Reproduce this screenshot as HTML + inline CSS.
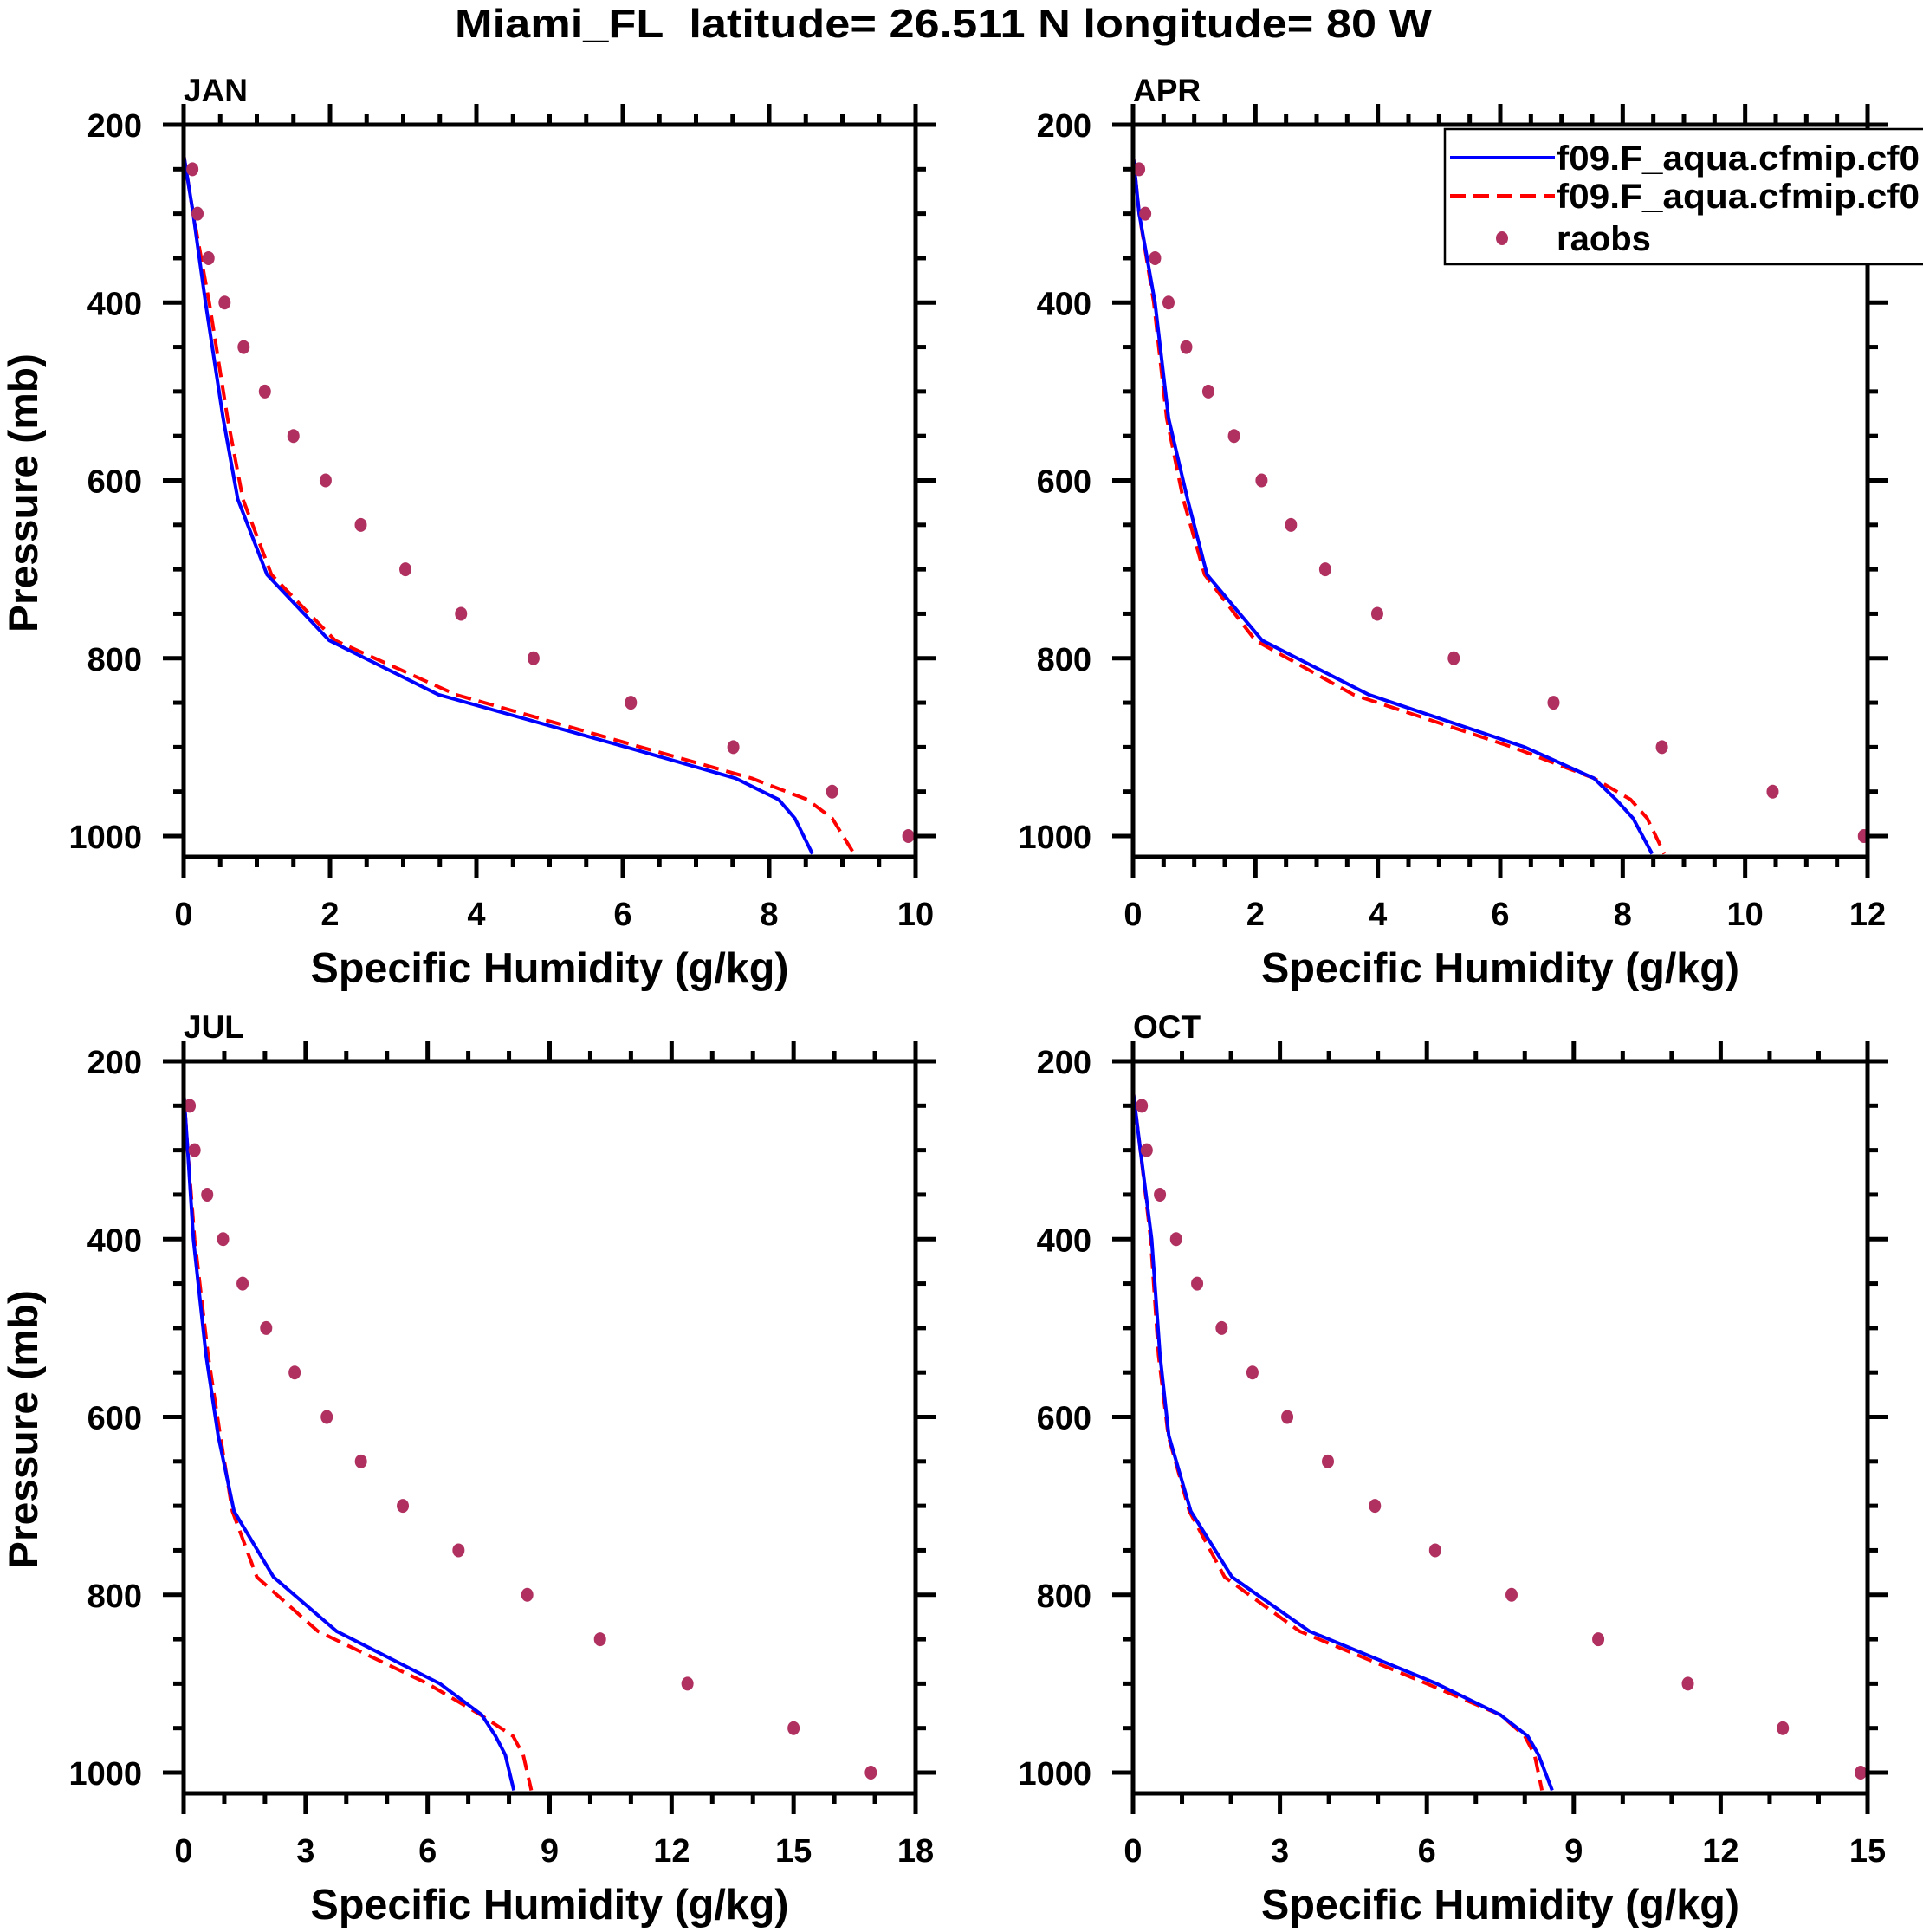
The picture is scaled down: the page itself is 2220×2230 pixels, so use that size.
<!DOCTYPE html>
<html><head><meta charset="utf-8"><style>
html,body{margin:0;padding:0;background:#fff}
svg{display:block}
text{font-family:"Liberation Sans",sans-serif;font-weight:bold;fill:#000}
</style></head><body>
<svg id="fig" xmlns="http://www.w3.org/2000/svg" width="2220" height="2230" viewBox="0 0 2220 2230">
<rect width="2220" height="2230" fill="#fff"/>
<text x="1089" y="43" font-size="46" text-anchor="middle" textLength="1128" lengthAdjust="spacingAndGlyphs">Miami_FL&#160; latitude= 26.511 N longitude= 80 W</text>
<g id="panels"></g>
<g>
<rect x="1668" y="149" width="560" height="156" fill="#fff" stroke="#000" stroke-width="2.5"/>
<line x1="1674" y1="182" x2="1795" y2="182" stroke="#0000ff" stroke-width="4"/>
<text x="1797" y="196" font-size="40" textLength="419" lengthAdjust="spacingAndGlyphs">f09.F_aqua.cfmip.cf0</text>
<line x1="1674" y1="226" x2="1795" y2="226" stroke="#ff0000" stroke-width="4" stroke-dasharray="18,9"/>
<text x="1797" y="240" font-size="40" textLength="419" lengthAdjust="spacingAndGlyphs">f09.F_aqua.cfmip.cf0</text>
<ellipse cx="1734" cy="275" rx="7" ry="8" fill="#b03060"/>
<text x="1797" y="289" font-size="40">raobs</text>
</g>
</svg>
<script>
const obsP = [250,300,350,400,450,500,550,600,650,700,750,800,850,900,950,1000];
const modP = [233,300,400,530,621,706,780,841,900,935,959,980,1020];
const janObs = [0.12,0.19,0.34,0.56,0.82,1.11,1.5,1.94,2.42,3.03,3.79,4.78,6.11,7.51,8.86,9.9];
const janBlue = [0,0.13,0.3,0.54,0.74,1.14,1.99,3.48,6.05,7.54,8.13,8.35,8.59];
const janRed = [0,0.13,0.35,0.6,0.81,1.2,2.07,3.72,6.25,7.76,8.52,8.86,9.16];
const aprObs = [0.1,0.2,0.36,0.58,0.87,1.23,1.65,2.1,2.58,3.14,3.99,5.24,6.87,8.64,10.45,11.94];
const aprBlue = [0,0.1,0.36,0.58,0.89,1.21,2.11,3.85,6.4,7.53,7.89,8.17,8.48];
const aprRed = [0,0.1,0.34,0.55,0.82,1.17,2.0,3.6,6.2,7.53,8.13,8.4,8.68];
const julObs = [0.15,0.27,0.58,0.97,1.45,2.03,2.73,3.52,4.36,5.39,6.76,8.45,10.24,12.39,15.0,16.9];
const julBlue = [0,0.1,0.24,0.55,0.85,1.24,2.21,3.76,6.3,7.33,7.67,7.91,8.12];
const julRed = [0,0.1,0.27,0.6,0.9,1.2,1.8,3.3,6.0,7.3,8.1,8.35,8.55];
const octObs = [0.18,0.28,0.55,0.88,1.31,1.81,2.44,3.15,3.98,4.94,6.17,7.73,9.5,11.33,13.27,14.86];
const octBlue = [0,0.15,0.38,0.55,0.73,1.18,2.02,3.6,6.2,7.5,8.06,8.28,8.56];
const octRed = [0,0.15,0.36,0.52,0.72,1.15,1.87,3.4,6.0,7.5,8.0,8.2,8.35];
const yTickLabels = ["200","400","600","800","1000"];
const yTickValues = [200,400,600,800,1000];

const NS="http://www.w3.org/2000/svg";
const root=document.getElementById('panels');
function mk(tag,attrs,parent){const e=document.createElementNS(NS,tag);for(const k in attrs)e.setAttribute(k,attrs[k]);(parent||root).appendChild(e);return e;}

function panel(cfg){
  const g=mk('g',{});
  
  
  const x0=cfg.x0,x1=cfg.x1,yt=cfg.yt,y1000=cfg.yt+821,yb=cfg.yt+845;
  const xs=v=>x0+(v-0)/cfg.xmax*(x1-x0);
  const ys=p=>yt+(p-200)/800*(y1000-yt);
  const line=(vals,color,dash,nm)=>{
    const d=vals.map((v,i)=>(i?'L':'M')+xs(v).toFixed(1)+','+ys(modP[i]).toFixed(1)).join(' ');
    const pth=mk('path',{d:d,fill:'none',stroke:color,'stroke-width':4,'stroke-dasharray':dash,'stroke-linejoin':'round'},g);
    
    
  };
  line(cfg.red,'#ff0000','18,9',cfg.name+'-model-red-line');
  line(cfg.blue,'#0000ff','none',cfg.name+'-model-blue-line');
  cfg.obs.forEach((v,i)=>{
    const c=mk('ellipse',{cx:xs(v),cy:ys(obsP[i]),rx:7,ry:8,fill:'#b03060'},g);
    
    
  });
  const fr=mk('rect',{x:x0,y:yt,width:x1-x0,height:yb-yt,fill:'none',stroke:'#000','stroke-width':5},g);
  
  
  for(let p=200;p<=1000;p+=50){
    const L=(p%200===0)?24:12, y=ys(p);
    mk('line',{x1:x0-L,y1:y,x2:x0,y2:y,stroke:'#000','stroke-width':5},g);
    mk('line',{x1:x1,y1:y,x2:x1+L,y2:y,stroke:'#000','stroke-width':5},g);
  }
  yTickValues.forEach((p,i)=>{
    const t=mk('text',{x:x0-48,y:ys(p)+14,'font-size':38,'text-anchor':'end'},g);
    t.textContent=yTickLabels[i];
    
    
  });
  const n=Math.round(cfg.xmax/cfg.minor);
  for(let i=0;i<=n;i++){
    const v=i*cfg.minor, maj=Math.abs(v/cfg.major-Math.round(v/cfg.major))<1e-6;
    const L=maj?24:12, x=xs(v);
    mk('line',{x1:x,y1:yb,x2:x,y2:yb+L,stroke:'#000','stroke-width':5},g);
    mk('line',{x1:x,y1:yt-L,x2:x,y2:yt,stroke:'#000','stroke-width':5},g);
  }
  cfg.xTickLabels.forEach((lab,i)=>{
    const t=mk('text',{x:xs(+lab),y:yt+924,'font-size':38,'text-anchor':'middle'},g);
    t.textContent=lab;
    
    
  });
  const pt=mk('text',{x:x0,y:yt-27,'font-size':37},g);
  pt.textContent=cfg.title;
  
  
  const xt=mk('text',{x:(x0+x1)/2,y:yt+990,'font-size':49,'text-anchor':'middle',textLength:552,lengthAdjust:'spacingAndGlyphs'},g);
  xt.textContent='Specific Humidity (g/kg)';
  
  
  if(cfg.ytitle){
    const cy=yt+425;
    const tt=mk('text',{x:0,y:0,'font-size':47,'text-anchor':'middle',textLength:322,lengthAdjust:'spacingAndGlyphs',transform:'translate(43,'+cy+') rotate(-90)'},g);
    tt.textContent='Pressure (mb)';
    
    
  }
}
panel({name:'jan',title:'JAN',x0:212,x1:1057,yt:144,xmax:10,major:2,minor:0.5,xTickLabels:["0","2","4","6","8","10"],obs:janObs,blue:janBlue,red:janRed,ytitle:true});
panel({name:'apr',title:'APR',x0:1308,x1:2156,yt:144,xmax:12,major:2,minor:0.5,xTickLabels:["0","2","4","6","8","10","12"],obs:aprObs,blue:aprBlue,red:aprRed,ytitle:false});
panel({name:'jul',title:'JUL',x0:212,x1:1057,yt:1225,xmax:18,major:3,minor:1,xTickLabels:["0","3","6","9","12","15","18"],obs:julObs,blue:julBlue,red:julRed,ytitle:true});
panel({name:'oct',title:'OCT',x0:1308,x1:2156,yt:1225,xmax:15,major:3,minor:1,xTickLabels:["0","3","6","9","12","15"],obs:octObs,blue:octBlue,red:octRed,ytitle:false});
</script>
</body></html>
